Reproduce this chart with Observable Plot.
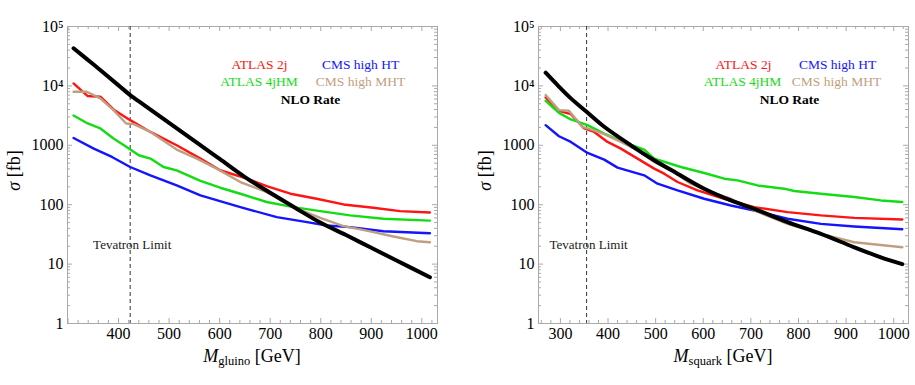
<!DOCTYPE html>
<html>
<head>
<meta charset="utf-8">
<script src="https://cdn.jsdelivr.net/npm/d3@7"></script>
<script src="https://cdn.jsdelivr.net/npm/@observablehq/plot@0.6"></script>
<style>
  html, body { margin: 0; padding: 0; background: #fff; }
  #wrap { position: relative; width: 915px; height: 385px; overflow: hidden; }
  #wrap svg { position: absolute; top: 0; }
</style>
</head>
<body>
<div id="wrap"></div>
<script>
// ---------------- DATA ----------------
// Gluino panel
const gluinoNLO_m = [311, 350, 400, 423, 450, 500, 550, 600, 650, 700, 750, 800, 850, 900, 950, 1016];
const gluinoNLO_s = [43000, 23100, 10200, 7000, 4800, 2380, 1190, 590, 292, 159, 88, 49.5, 30.8, 18.8, 11.5, 6.0];
const gluinoATLAS2j_m = [311, 339, 364, 390, 423, 463, 515, 562, 601, 654, 693, 740, 792, 845, 904, 957, 1016];
const gluinoATLAS2j_s = [11000, 6750, 6580, 4020, 2650, 1680, 1000, 597, 380, 275, 205, 153, 126, 101, 88.7, 78, 74];
const gluinoATLAS4j_m = [311, 339, 364, 390, 416, 440, 463, 489, 515, 562, 601, 641, 693, 746, 799, 858, 924, 1016];
const gluinoATLAS4j_s = [3180, 2330, 1920, 1300, 940, 680, 597, 431, 379, 251, 193, 153, 111, 91, 78, 66, 58, 54];
const gluinoCMSHT_m = [311, 351, 387, 423, 463, 515, 562, 641, 713, 773, 812, 858, 924, 1016];
const gluinoCMSHT_s = [1330, 880, 637, 431, 312, 211, 143, 91, 61.8, 50.8, 44.7, 41.9, 35.8, 33.1];
const gluinoCMSMHT_m = [311, 337, 364, 390, 415, 430, 463, 515, 555, 594, 641, 693, 746, 799, 845, 891, 944, 990, 1016];
const gluinoCMSMHT_s = [7980, 7980, 6160, 3910, 2330, 2270, 1680, 847, 597, 405, 241, 163, 91, 60, 43.5, 36.7, 29.1, 24.3, 23.3];

// Squark panel
const squarkNLO_m = [269, 294, 322, 355, 392, 448, 497, 546, 602, 658, 707, 777, 847, 917, 973, 1018];
const squarkNLO_s = [16700, 10300, 6160, 3660, 2050, 1000, 560, 333, 186, 118, 85, 50.8, 32.3, 19.2, 13, 10];
const squarkATLAS2j_m = [269, 297, 322, 350, 371, 399, 427, 462, 497, 518, 546, 588, 644, 707, 777, 847, 917, 1018];
const squarkATLAS2j_s = [6400, 3810, 3350, 1920, 1680, 1140, 880, 597, 405, 333, 241, 174, 126, 91, 75, 66, 60, 56.4];
const squarkATLAS4j_m = [269, 297, 322, 357, 392, 441, 476, 497, 553, 602, 644, 672, 714, 770, 791, 847, 917, 973, 1018];
const squarkATLAS4j_s = [5620, 3520, 2720, 2180, 1580, 1068, 847, 597, 431, 342, 274, 257, 211, 186, 170, 153, 135, 118, 111];
const squarkCMSHT_m = [269, 297, 322, 357, 392, 420, 476, 504, 546, 602, 658, 707, 777, 847, 917, 1018];
const squarkCMSHT_s = [2180, 1420, 1140, 745, 574, 421, 312, 226, 174, 126, 97, 80, 58, 47.6, 43, 38.7];
const squarkCMSMHT_m = [269, 297, 318, 346, 364, 392, 427, 462, 497, 532, 574, 616, 658, 707, 777, 847, 917, 1018];
const squarkCMSMHT_s = [7010, 3910, 3810, 2050, 1850, 1540, 1140, 826, 525, 379, 226, 163, 126, 80, 47.6, 32.3, 23.3, 19.2];

// Tevatron limits (GeV)
const tevatronLimits = [423, 355];

// Labels and ticks
const legendLabels = ["ATLAS 2j", "CMS high HT", "ATLAS 4jHM", "CMS high MHT", "NLO Rate"];
const seriesColors = ["#ff1414", "#1414ff", "#14dc14", "#bf9f80", "#000000"];
const yMajorTicks = [1, 10, 100, 1000, 10000, 100000];
const yTickLabels = ["1", "10", "100", "1000", "10⁴", "10⁵"];
const gluinoXTicks = [400, 500, 600, 700, 800, 900, 1000];
const squarkXTicks = [300, 400, 500, 600, 700, 800, 900, 1000];
const xParticles = ["gluino", "squark"];

// ---------------- BUILD ----------------
const FONT = "'Liberation Serif', 'Times New Roman', serif";
const zip = (m, s) => m.map((v, i) => ({m: v, s: s[i]}));

const panels = [
  {
    left: 0, width: 460, marginLeft: 67, marginRight: 23,
    xDomain: [299, 1031], xTicks: gluinoXTicks, particle: xParticles[0], limit: tevatronLimits[0],
    series: [
      zip(gluinoATLAS2j_m, gluinoATLAS2j_s), zip(gluinoCMSHT_m, gluinoCMSHT_s),
      zip(gluinoATLAS4j_m, gluinoATLAS4j_s), zip(gluinoCMSMHT_m, gluinoCMSMHT_s),
      zip(gluinoNLO_m, gluinoNLO_s)
    ],
    legendPos: [[192, 38], [293, 38], [191.5, 55.5], [293, 55.5], [243, 73.5]]
  },
  {
    left: 460, width: 455, marginLeft: 78, marginRight: 7,
    xDomain: [254, 1031], xTicks: squarkXTicks, particle: xParticles[1], limit: tevatronLimits[1],
    series: [
      zip(squarkATLAS2j_m, squarkATLAS2j_s), zip(squarkCMSHT_m, squarkCMSHT_s),
      zip(squarkATLAS4j_m, squarkATLAS4j_s), zip(squarkCMSMHT_m, squarkCMSMHT_s),
      zip(squarkNLO_m, squarkNLO_s)
    ],
    legendPos: [[205, 38], [299, 38], [204, 55.5], [298, 55.5], [251, 73.5]]
  }
];

const H = 385, marginTop = 26, marginBottom = 62;
const frameH = H - marginTop - marginBottom;
const frameColor = "#a9a9a9";

const yMinorTicks = [];
for (let k = 0; k < 5; k++) for (let j = 2; j <= 9; j++) yMinorTicks.push(j * Math.pow(10, k));

const wrap = document.getElementById("wrap");

panels.forEach((p) => {
  const frameW = p.width - p.marginLeft - p.marginRight;
  const xMajor = d3.range(Math.ceil(p.xDomain[0] / 100) * 100, p.xDomain[1], 100);
  const xMinor = d3.range(Math.ceil(p.xDomain[0] / 20) * 20, p.xDomain[1], 20).filter(v => v % 100 !== 0);
  const major = 5, minor = 3;

  const marks = [
    // inward ticks on all four sides
    Plot.tickY(yMajorTicks, {y: d => d, insetRight: frameW - major, stroke: frameColor}),
    Plot.tickY(yMajorTicks, {y: d => d, insetLeft: frameW - major, stroke: frameColor}),
    Plot.tickY(yMinorTicks, {y: d => d, insetRight: frameW - minor, stroke: frameColor}),
    Plot.tickY(yMinorTicks, {y: d => d, insetLeft: frameW - minor, stroke: frameColor}),
    Plot.tickX(xMajor, {x: d => d, insetTop: frameH - major, stroke: frameColor}),
    Plot.tickX(xMajor, {x: d => d, insetBottom: frameH - major, stroke: frameColor}),
    Plot.tickX(xMinor, {x: d => d, insetTop: frameH - minor, stroke: frameColor}),
    Plot.tickX(xMinor, {x: d => d, insetBottom: frameH - minor, stroke: frameColor}),
    Plot.frame({stroke: frameColor, strokeWidth: 1}),
    Plot.axisY(yMajorTicks, {tickSize: 0, tickPadding: 4, tickFormat: d => yTickLabels[yMajorTicks.indexOf(d)], label: null, fontSize: 16, fontFamily: FONT}),
    Plot.axisX(p.xTicks, {tickSize: 0, tickPadding: 4, tickFormat: d => String(d), label: null, fontSize: 16, fontFamily: FONT}),
    // Tevatron limit
    Plot.ruleX([p.limit], {x: d => d, stroke: "#333", strokeWidth: 1, strokeDasharray: "4,3"}),
    Plot.text([p.limit], {x: d => d, frameAnchor: "top", dy: 218, dx: 2, text: () => "Tevatron Limit", fontSize: 13, fontFamily: FONT, fill: "#1a1a1a", textAnchor: "middle", lineAnchor: "middle"}),
  ];
  // colored series
  for (let i = 0; i < 4; i++) {
    marks.push(Plot.line(p.series[i], {x: "m", y: "s", stroke: seriesColors[i], strokeWidth: 2.4, curve: "linear"}));
  }
  marks.push(Plot.line(p.series[4], {x: "m", y: "s", stroke: seriesColors[4], strokeWidth: 4, curve: "catmull-rom"}));
  // in-plot legend
  legendLabels.forEach((lab, i) => {
    marks.push(Plot.text([lab], {
      text: d => d, frameAnchor: "top-left", dx: p.legendPos[i][0], dy: p.legendPos[i][1],
      textAnchor: "middle", lineAnchor: "middle", fontFamily: FONT,
      fill: seriesColors[i], fontSize: 13.5, fontWeight: i === 4 ? "bold" : "normal"
    }));
  });

  const svg = Plot.plot({
    width: p.width, height: H,
    marginLeft: p.marginLeft, marginRight: p.marginRight, marginTop, marginBottom,
    x: {domain: p.xDomain},
    y: {type: "log", domain: [1, 100000]},
    style: {fontFamily: FONT, fontSize: "16px", color: "#000", background: "transparent", overflow: "visible"},
    marks
  });
  svg.style.left = p.left + "px";

  // axis titles as real text
  const g = d3.select(svg);
  const cx = p.marginLeft + frameW / 2;
  const xt = g.append("text")
    .attr("x", cx).attr("y", 362)
    .attr("text-anchor", "middle").attr("font-family", FONT)
    .attr("font-size", 18).attr("fill", "#000");
  xt.append("tspan").attr("font-style", "italic").text("M");
  xt.append("tspan").attr("font-size", 12.5).attr("dy", 3).text(p.particle);
  xt.append("tspan").attr("dy", -3).text(" [GeV]");

  const yt = g.append("text")
    .attr("transform", `translate(${p.marginLeft - 47},${marginTop + frameH / 2 - 4}) rotate(-90)`)
    .attr("text-anchor", "middle").attr("font-family", FONT)
    .attr("font-size", 18).attr("fill", "#000");
  yt.append("tspan").attr("font-style", "italic").text("σ");
  yt.append("tspan").text(" [fb]");

  wrap.appendChild(svg);
});
</script>
</body>
</html>
